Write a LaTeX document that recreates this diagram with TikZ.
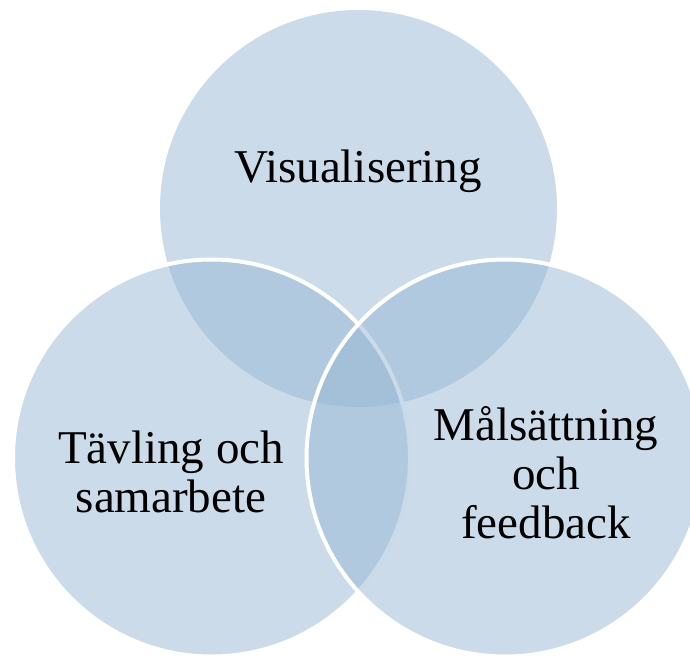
\documentclass[tikz,border=0pt]{standalone}
\usepackage{fontspec}
\setmainfont{Liberation Serif}
\usetikzlibrary{positioning}
\definecolor{setblue}{RGB}{151,183,211}
\tikzset{
    set/.style={circle, minimum size=397pt, inner sep=0pt, fill=setblue, fill opacity=0.5},
    rim/.style={draw=white, line width=4pt},
    lbl/.style={align=center, text=black, font=\fontsize{47}{49}\selectfont, inner sep=0pt}
}

\begin{document}
\begin{tikzpicture}[x=1pt, y=1pt]
    \useasboundingbox (0,0) rectangle (690,657);

    \node[set] (vis) at (358.5,448.5) {};
    \node[set, rim] (tav) at (211.5,199) {};
    \node[set, rim] (mal) at (505,199) {};

    % base sits on the last line of a node
    \node[lbl, anchor=base, xshift=-0.5pt, yshift=25.5pt] (visl) at (vis.center) {Visualisering};
    \node[lbl, anchor=base, xshift=-40.5pt, yshift=-54pt] (tavl) at (tav.center) {Tävling och\\samarbete};
    \node[lbl, anchor=base, xshift=41pt, yshift=-80pt] (mall) at (mal.center) {Målsättning\\och\\feedback};
\end{tikzpicture}
\end{document}
